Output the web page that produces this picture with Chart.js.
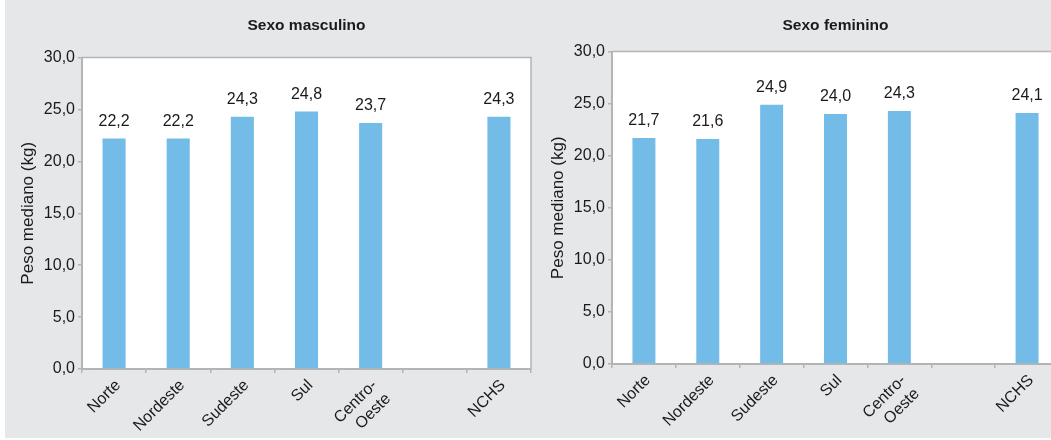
<!DOCTYPE html>
<html>
<head>
<meta charset="utf-8">
<script src="https://cdn.jsdelivr.net/npm/chart.js@4"></script>
<style>
  html, body { margin: 0; padding: 0; background: #fff; overflow: hidden; }
  #bg { position: absolute; left: 5px; top: 0; width: 1046px; height: 438px; background: #e6e7e9; }
  .panel { position: absolute; top: 0; height: 438px; }
  #left { left: 5px; width: 530px; }
  #right { left: 531px; width: 540px; }
</style>
</head>
<body>
<div id="bg"></div>
<div class="panel" id="left"><canvas id="masc"></canvas></div>
<div class="panel" id="right"><canvas id="fem"></canvas></div>
<script>
// regiões + referência NCHS (categoria vazia separa as duas)
const regioes = ['Norte', 'Nordeste', 'Sudeste', 'Sul', ['Centro-', 'Oeste'], '', 'NCHS'];
const pesoMasculino = [22.2, 22.2, 24.3, 24.8, 23.7, null, 24.3];
const pesoFeminino = [21.7, 21.6, 24.9, 24.0, 24.3, null, 24.1];
const yTicks = [0, 5, 10, 15, 20, 25, 30];

const FONT = 'Liberation Sans, Arial, sans-serif';
const TXT = '#1a1a1a';
const AXIS = '#b4b4b4';
const BAR = '#74bce8';

const fmt = v => v.toFixed(1).replace('.', ',');

// fundo branco da área do gráfico + moldura + valores sobre as barras
const plotFrame = {
  id: 'plotFrame',
  beforeDraw(chart) {
    const { ctx, chartArea: a } = chart;
    ctx.save();
    ctx.fillStyle = '#fff';
    ctx.fillRect(a.left, a.top, a.right - a.left, a.bottom - a.top);
    ctx.restore();
  },
  afterDatasetsDraw(chart) {
    const { ctx, chartArea: a } = chart;
    ctx.save();
    ctx.strokeStyle = AXIS;
    ctx.lineWidth = 1.5;
    ctx.beginPath();
    ctx.moveTo(a.left, a.top);
    ctx.lineTo(a.right, a.top);
    ctx.lineTo(a.right, a.bottom);
    ctx.stroke();

    ctx.fillStyle = TXT;
    ctx.font = '16px ' + FONT;
    ctx.textAlign = 'center';
    ctx.textBaseline = 'alphabetic';
    const meta = chart.getDatasetMeta(0);
    chart.data.datasets[0].data.forEach((v, i) => {
      if (v == null) return;
      const bar = meta.data[i];
      ctx.fillText(fmt(v), bar.x, bar.y - 13);
    });
    ctx.restore();
  }
};

function makeChart(id, titulo, valores, lay) {
  return new Chart(document.getElementById(id), {
    type: 'bar',
    data: {
      labels: regioes,
      datasets: [{
        data: valores,
        backgroundColor: BAR,
        barPercentage: 0.36,
        categoryPercentage: 1
      }]
    },
    plugins: [plotFrame],
    options: {
      responsive: true,
      maintainAspectRatio: false,
      animation: false,
      layout: { padding: { left: lay.padLeft, right: lay.padRight, top: 0, bottom: 0 } },
      plugins: {
        legend: { display: false },
        tooltip: { enabled: false },
        title: {
          display: true,
          text: titulo,
          fullSize: false,
          color: TXT,
          font: { family: FONT, size: 15.5, weight: 'bold' },
          padding: { top: 16, bottom: lay.titleBottom }
        }
      },
      scales: {
        x: {
          afterFit(s) { s.height = lay.xHeight; },
          grid: { drawOnChartArea: false, tickLength: 4, color: AXIS, lineWidth: 1.5, offset: true },
          border: { color: AXIS, width: 2 },
          ticks: {
            minRotation: 45,
            maxRotation: 45,
            autoSkip: false,
            labelOffset: 4,
            color: TXT,
            font: { family: FONT, size: 16 }
          }
        },
        y: {
          min: 0,
          max: 30,
          afterFit(s) { s.width = lay.yWidth; },
          afterBuildTicks(s) { s.ticks = yTicks.map(v => ({ value: v })); },
          grid: { drawOnChartArea: false, tickLength: 4, color: AXIS, lineWidth: 1.5 },
          border: { color: AXIS, width: 2 },
          ticks: {
            padding: 3,
            color: TXT,
            font: { family: FONT, size: 16 },
            callback: v => fmt(v)
          },
          title: {
            display: true,
            text: 'Peso mediano (kg)',
            color: TXT,
            font: { family: FONT, size: 17 },
            padding: { top: 4, bottom: 4 }
          }
        }
      }
    }
  });
}

makeChart('masc', 'Sexo masculino', pesoMasculino,
  { padLeft: 9, padRight: 4, yWidth: 68, xHeight: 69, titleBottom: 23 });
makeChart('fem', 'Sexo feminino', pesoFeminino,
  { padLeft: 13, padRight: 12, yWidth: 68, xHeight: 74, titleBottom: 17 });
</script>
</body>
</html>
